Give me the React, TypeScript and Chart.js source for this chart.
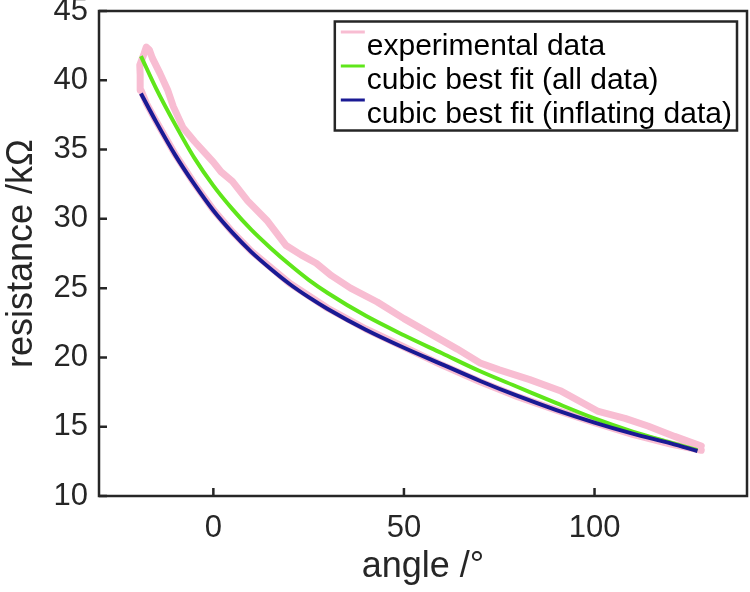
import React, { useEffect, useRef } from 'react';
import { Chart, registerables } from 'chart.js';

Chart.register(...registerables);

const FONT = "'Liberation Sans', Arial, Helvetica, sans-serif";
const INK = '#262626';

const xTickValues = [0, 50, 100];
const yTickValues = [10, 15, 20, 25, 30, 35, 40, 45];

const seriesLabels = ['experimental data', 'cubic best fit (all data)', 'cubic best fit (inflating data)'];
const seriesColors = ['#f8bdd2', '#5fe61a', '#1a1a94'];

// experimental data: inflating branch (lower) then deflating branch (upper)
const expX = [128, 120, 110, 100, 90, 80, 70, 60, 50, 40, 30, 20, 10, 5, 0, -5, -10, -15, -17.5, -19.0, -19.2, -19.3, -18.2, -17.6, -16.8, -16, -14, -12, -10.5, -8, -5, -3, 0, 2, 5, 9, 14, 19, 23, 27, 31, 36, 43, 50, 57, 64, 70, 75, 83, 91, 101, 108, 114, 121, 128];
const expY = [13.3, 13.75, 14.45, 15.3, 16.2, 17.15, 18.25, 19.45, 20.75, 22.05, 23.55, 25.35, 27.65, 29.05, 30.65, 32.55, 34.65, 37.05, 38.3, 39.3, 40.4, 41.1, 41.9, 42.4, 42.2, 41.6, 40.5, 39.3, 38.1, 36.6, 35.6, 35.0, 34.1, 33.4, 32.7, 31.3, 29.9, 28.1, 27.4, 26.8, 25.9, 25.0, 24.0, 22.8, 21.7, 20.6, 19.6, 19.1, 18.4, 17.6, 16.1, 15.6, 15.05, 14.3, 13.6];

const fitAllX = [-19, -15, -10, -5, 0, 5, 10, 15, 20, 25, 30, 40, 50, 60, 70, 80, 90, 100, 110, 120, 127];
const fitAllY = [41.75, 39.4, 36.8, 34.4, 32.4, 30.7, 29.2, 27.9, 26.7, 25.6, 24.65, 23.0, 21.6, 20.3, 19.0, 17.85, 16.7, 15.6, 14.65, 13.85, 13.3];

const fitInfX = [-19, -15, -10, -5, 0, 5, 10, 15, 20, 25, 30, 40, 50, 60, 70, 80, 90, 100, 110, 120, 127];
const fitInfY = [39.05, 37.0, 34.6, 32.5, 30.6, 29.0, 27.6, 26.4, 25.3, 24.35, 23.5, 22.0, 20.7, 19.5, 18.3, 17.2, 16.2, 15.3, 14.5, 13.8, 13.25];

const toPoints = (xs: number[], ys: number[]) => xs.map((x, i) => ({ x, y: ys[i] }));

const framePlugin = {
  id: 'matlabFrame',
  afterDatasetsDraw(chart: any) {
    const { ctx, chartArea: a, scales } = chart;
    ctx.save();
    ctx.strokeStyle = INK;
    ctx.lineWidth = 2.5;
    ctx.strokeRect(a.left, a.top, a.right - a.left, a.bottom - a.top);
    ctx.beginPath();
    for (const v of xTickValues) {
      const px = scales.x.getPixelForValue(v);
      ctx.moveTo(px, a.bottom);
      ctx.lineTo(px, a.bottom - 8);
    }
    for (const v of yTickValues) {
      const py = scales.y.getPixelForValue(v);
      ctx.moveTo(a.left, py);
      ctx.lineTo(a.left + 8, py);
    }
    ctx.stroke();

    // legend box (top-right, inside axes)
    ctx.font = `30px ${FONT}`;
    const datasets = chart.data.datasets;
    let maxW = 0;
    for (const d of datasets) maxW = Math.max(maxW, ctx.measureText(d.label).width);
    const boxW = 32 + maxW + 5;
    const boxH = 109;
    const boxRight = a.right - 10;
    const boxLeft = boxRight - boxW;
    const boxTop = a.top + 10.5;
    ctx.fillStyle = '#ffffff';
    ctx.fillRect(boxLeft, boxTop, boxW, boxH);
    ctx.lineWidth = 2.5;
    ctx.strokeStyle = INK;
    ctx.strokeRect(boxLeft, boxTop, boxW, boxH);
    ctx.textBaseline = 'alphabetic';
    ctx.textAlign = 'left';
    datasets.forEach((d: any, i: number) => {
      const base = boxTop + 33.5 + i * 34;
      const ly = base - 23;
      ctx.beginPath();
      ctx.strokeStyle = d.borderColor;
      ctx.lineWidth = 3;
      ctx.moveTo(boxLeft + 6, ly);
      ctx.lineTo(boxLeft + 30, ly);
      ctx.stroke();
      ctx.fillStyle = '#000000';
      ctx.fillText(d.label, boxLeft + 32, base);
    });
    ctx.restore();
  },
};

export default function App() {
  const ref = useRef<HTMLCanvasElement | null>(null);
  useEffect(() => {
    if (!ref.current) return;
    const chart = new Chart(ref.current, {
      type: 'scatter',
      data: {
        datasets: [
          {
            label: seriesLabels[0],
            data: toPoints(expX, expY),
            borderColor: seriesColors[0],
            backgroundColor: seriesColors[0],
            borderWidth: 7,
            showLine: true,
            pointRadius: 0,
            tension: 0,
            order: 2,
            borderJoinStyle: 'round',
            borderCapStyle: 'round',
          },
          {
            label: seriesLabels[1],
            data: toPoints(fitAllX, fitAllY),
            borderColor: seriesColors[1],
            backgroundColor: seriesColors[1],
            borderWidth: 4,
            showLine: true,
            pointRadius: 0,
            cubicInterpolationMode: 'monotone',
            order: 1,
          },
          {
            label: seriesLabels[2],
            data: toPoints(fitInfX, fitInfY),
            borderColor: seriesColors[2],
            backgroundColor: seriesColors[2],
            borderWidth: 4,
            showLine: true,
            pointRadius: 0,
            cubicInterpolationMode: 'monotone',
            order: 0,
          },
        ],
      } as any,
      options: {
        animation: false,
        responsive: false,
        devicePixelRatio: 1,
        layout: { padding: { top: 11, right: 3, left: 0, bottom: 0 } },
        plugins: { legend: { display: false }, tooltip: { enabled: false } },
        scales: {
          x: {
            type: 'linear',
            min: -30,
            max: 140,
            grid: { display: false, drawTicks: false },
            border: { display: false },
            ticks: { font: { size: 31, family: FONT }, color: INK, padding: 14, maxRotation: 0 },
            title: { display: true, text: 'angle /°', font: { size: 36, family: FONT }, color: INK, padding: { top: 0, bottom: 3 } },
            afterBuildTicks: (s: any) => { s.ticks = xTickValues.map((v) => ({ value: v })); },
            afterFit: (s: any) => { s.height = 96; s.paddingLeft = 0; s.paddingRight = 0; },
          },
          y: {
            type: 'linear',
            min: 10,
            max: 45,
            grid: { display: false, drawTicks: false },
            border: { display: false },
            ticks: { font: { size: 31, family: FONT }, color: INK, padding: 11 },
            title: { display: true, text: 'resistance /kΩ', font: { size: 36, family: FONT }, color: INK, padding: { top: 0, bottom: 0 } },
            afterBuildTicks: (s: any) => { s.ticks = yTickValues.map((v) => ({ value: v })); },
            afterFit: (s: any) => { s.width = 99; s.paddingTop = 0; s.paddingBottom = 0; },
          },
        },
      } as any,
      plugins: [framePlugin],
    });
    return () => chart.destroy();
  }, []);
  return (
    <div style={{ position: 'fixed', left: 0, top: 0, width: 750, height: 592, background: '#fff' }}>
      <canvas ref={ref} width={750} height={592} style={{ display: 'block', width: 750, height: 592 }} />
    </div>
  );
}
